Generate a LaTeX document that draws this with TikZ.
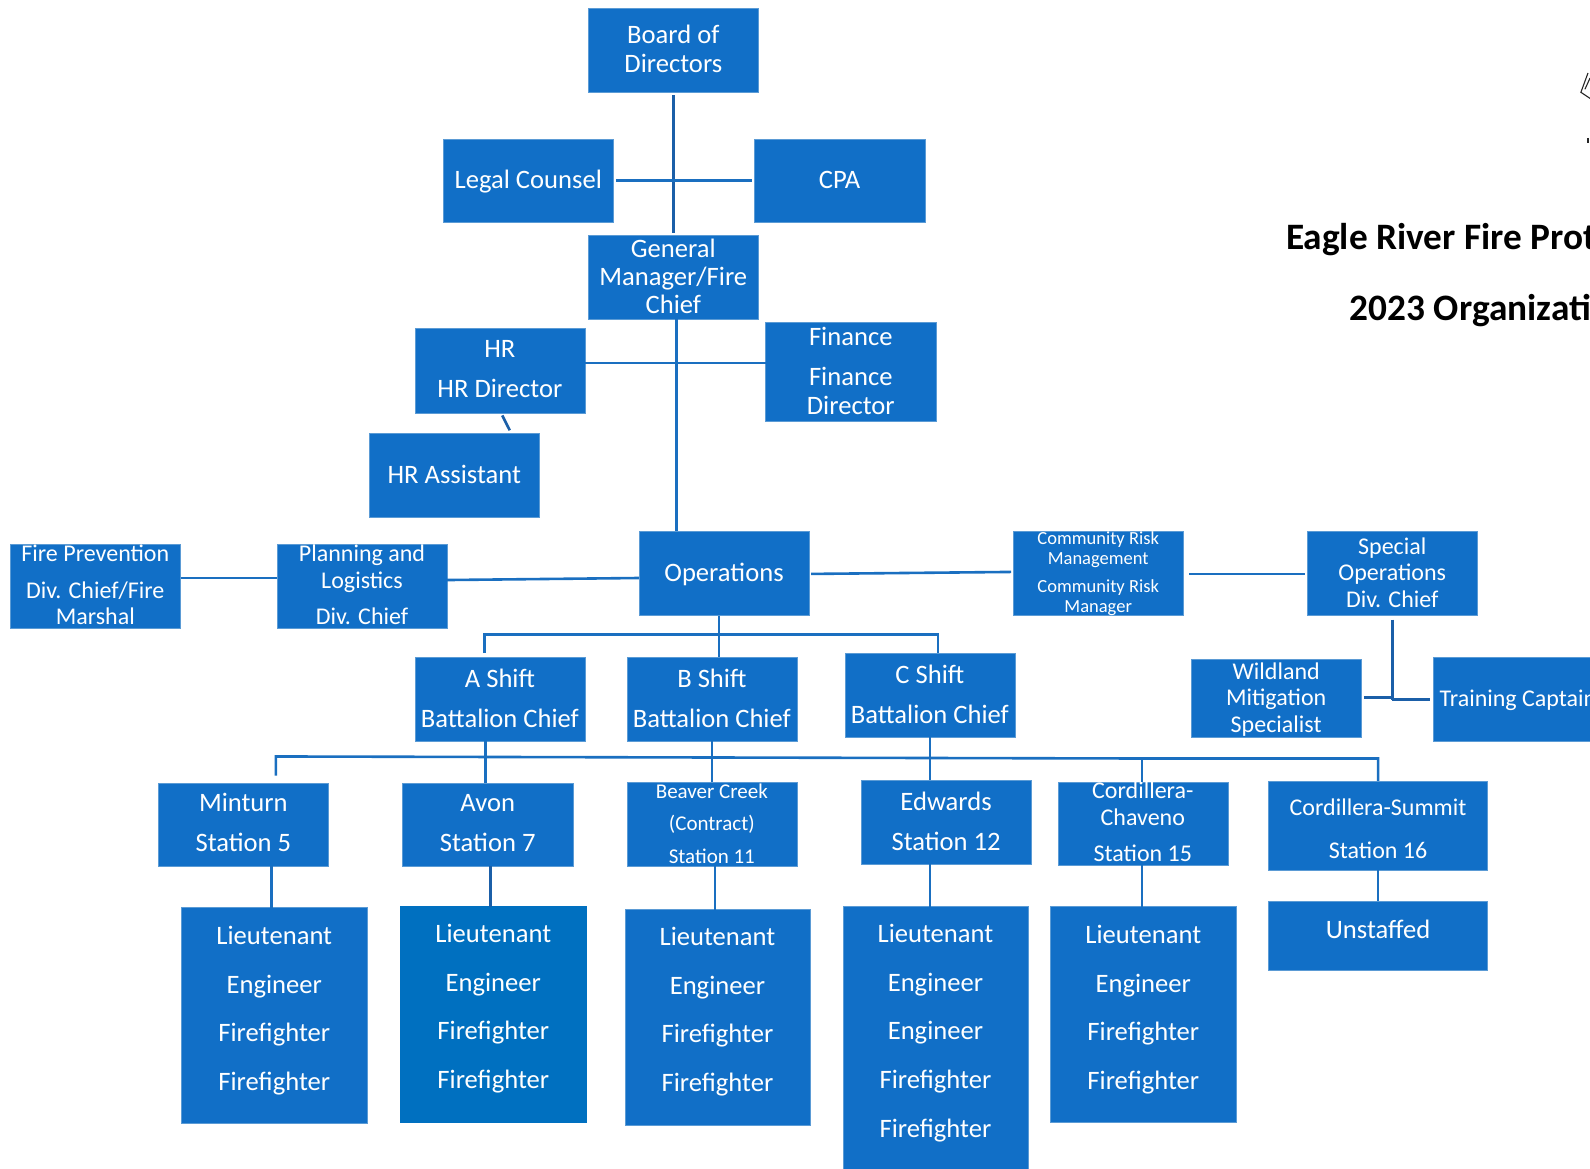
\documentclass[tikz,border=0pt]{standalone}
\usepackage{fontspec}
\setmainfont{Carlito}
\definecolor{bfill}{HTML}{116FC7}
\definecolor{bedge}{HTML}{5B9BD5}
\definecolor{avfill}{HTML}{0070C0}
\definecolor{lnA}{HTML}{1A6FC0}
\definecolor{lnB}{HTML}{1B5FA8}
\tikzset{
  orgbox/.style={fill=bfill,draw=bedge,line width=0.3pt,inner sep=0pt,outer sep=0pt,text=white},
  conn/.style={draw=lnA,line width=2.6pt},
  connd/.style={draw=lnB,line width=2.6pt},
  title/.style={anchor=west,inner sep=0pt,text=black,font=\bfseries\fontsize{37.3}{40}\selectfont},
  logoline/.style={draw=black!85,line width=1.1pt}
}
% [extra style]{name}{x1}{y1}{x2}{y2}{text centre y}{font size}{baseline}{text}
\newcommand\bx[9][]{%
  \pgfmathsetmacro\bw{(#5-#3)*1.014}%
  \pgfmathsetmacro\bh{(#6-#4)*1.014}%
  \pgfmathsetmacro\bdy{((#4+#6)/2-#7)*1.014}%
  \pgfmathsetmacro\boff{#8>25?1.3:(#8<20?0:2)}%
  \node[orgbox,#1,minimum width=\bw pt,minimum height=\bh pt] (#2) at ({(#3+#5)/2},{(#4+#6)/2})
  {\fontsize{#8}{#9}\selectfont\makebox[0pt]{\raisebox{\dimexpr\bdy pt-0.25em-\boff pt\relax}[0pt][0pt]{\parbox[c]{320pt}{\centering\baselineskip=#9pt\relax\lineskiplimit=-100pt\relax\leavevmode\vphantom{Ag}\bxtext\vphantom{Ag}}}}};%
}
\begin{document}
\begin{tikzpicture}[x=1.014pt,y=-1.014pt]
\clip (0,0) rectangle (1568,1152);
\newcommand\B[1]{\def\bxtext{#1}}
% top
\B{Board of\\Directors}\bx{board}{580}{8}{748}{91}{48.5}{26.6}{29}
\B{Legal Counsel}\bx{legal}{437}{137}{605}{219}{177.5}{26.6}{29}
\B{CPA}\bx{cpa}{744}{137}{912}{219}{177.5}{26.6}{29}
\B{General\\Manager/Fire\\Chief}\bx{gm}{580}{232}{748}{315}{272.5}{26.6}{28}
\B{HR\\[11pt]HR Director}\bx{hr}{409}{324}{577}{407}{364.5}{26.6}{29}
\B{Finance\\[11pt]Finance\\Director}\bx{fin}{755}{318}{923}{415}{366}{26.6}{29}
\B{HR Assistant}\bx{hra}{364}{427}{532}{510}{468.5}{26.6}{29}
% middle row
\B{Fire Prevention\\[10pt]Div. Chief/Fire\\Marshal}\bx{fp}{10}{537}{178}{619}{577}{24}{26.5}
\B{Planning and\\Logistics\\[10pt]Div. Chief}\bx{plan}{273}{537}{441}{619}{577}{24}{26.5}
\B{Operations}\bx{ops}{630}{524}{798}{607}{565}{26.6}{29}
\B{Community Risk\\Management\\[8pt]Community Risk\\Manager}\bx{crm}{999}{524}{1167}{607}{565}{18.5}{20}
\B{Special\\Operations\\Div. Chief}\bx{spec}{1289}{524}{1457}{607}{565}{24}{26.5}
\B{Wildland\\Mitigation\\Specialist}\bx{wild}{1175}{650}{1342}{727}{688}{24}{26.5}
\B{Training Captain}\bx{train}{1413}{648}{1581}{731}{689}{24}{26.5}
% shifts
\B{A Shift\\[11pt]Battalion Chief}\bx{ashift}{409}{648}{577}{731}{689}{26.6}{29}
\B{B Shift\\[11pt]Battalion Chief}\bx{bshift}{618}{648}{786}{731}{689}{26.6}{29}
\B{C Shift\\[11pt]Battalion Chief}\bx{cshift}{833}{644}{1001}{727}{685}{26.6}{29}
% stations
\B{Minturn\\[11pt]Station 5}\bx{st5}{156}{772}{324}{854}{812}{26.6}{29}
\B{Avon\\[11pt]Station 7}\bx{st7}{397}{772}{565}{854}{812}{26.6}{29}
\B{Beaver Creek\\(Contract)\\Station 11}\bx{st11}{618}{771}{786}{854}{812}{21}{32.5}
\B{Edwards\\[11pt]Station 12}\bx{st12}{849}{769}{1017}{852}{810}{26.6}{29}
\B{Cordillera-\\Chaveno\\[10pt]Station 15}\bx{st15}{1043}{771}{1211}{853}{811}{24}{26.5}
\B{Cordillera-Summit\\[17pt]Station 16}\bx{st16}{1251}{770}{1467}{858}{817.5}{24}{26.5}
% crews
\B{Lieutenant\\Engineer\\Firefighter\\Firefighter}\bx{cr5}{179}{895}{362}{1108}{995}{26.6}{48.7}
\B{Lieutenant\\Engineer\\Firefighter\\Firefighter}\bx[fill=avfill,draw=avfill]{cr7}{395}{894}{578}{1107}{993}{26.6}{48.7}
\B{Lieutenant\\Engineer\\Firefighter\\Firefighter}\bx{cr11}{616}{897}{799}{1110}{996}{26.6}{48.7}
\B{Lieutenant\\Engineer\\Engineer\\Firefighter\\Firefighter}\bx{cr12}{831}{894}{1014}{1160}{1017}{26.6}{48.7}
\B{Lieutenant\\Engineer\\Firefighter\\Firefighter}\bx{cr15}{1036}{894}{1219}{1107}{994}{26.6}{48.7}
\B{Unstaffed}\bx{un}{1251}{889}{1467}{957}{917}{26.6}{29}
% titles
\node[title] (t1) at (1268,236) {Eagle River Fire Prot};
\node[title] (t2) at (1331,306) {2023 Organizati};
% logo fragment at the page edge
\draw[logoline] (1566,72) -- (1559,91) -- (1568,97);
\draw[logoline] (1563,88) -- (1568,77);
\draw[logoline,line width=1.8pt] (1566,136) -- (1566,141);
% junctions
\coordinate (jh) at (667,358);
\coordinate (jb1) at (272,746);
\coordinate (jb2) at (1359,748);
\coordinate (jw) at (1373,690);
% connectors
\draw[connd,shorten <=3pt,shorten >=2pt] (board.south) -- (gm.north);
\draw[conn,shorten <=3pt,shorten >=2pt] (legal.east) -- (cpa.west);
\draw[conn] ([xshift=3pt]gm.south) -- ([xshift=3pt]gm.south |- ops.north);
\draw[conn] (hr.east |- jh) -- (fin.west |- jh);
\draw[connd,shorten <=3pt,shorten >=3pt] ([xshift=1pt]hr.south) -- (504,427);
\draw[conn] (fp.east |- 0,570) -- (plan.west |- 0,570);
\draw[conn] (plan.east |- 0,572) -- (ops.west |- 0,570);
\draw[conn,shorten <=2pt,shorten >=2pt] (ops.east |- 0,566) -- (crm.west |- 0,564);
\draw[conn,shorten <=6pt,shorten >=2pt] (crm.east |- 0,566) -- (spec.west |- 0,566);
\draw[connd,shorten <=4pt] (spec.south) -- (jw);
\draw[connd,shorten <=3pt] (wild.east |- 0,688) -- (1373,688);
\draw[connd,shorten >=3pt] (jw) -- (train.west |- jw);
% shift bus
\draw[conn] (709,607) -- (709,648);
\draw[conn,line cap=square] (478,644) -- (478,626) -- (925,626) -- (925,644);
% station bus
\draw[conn,line cap=square] (272,765) -- (jb1) -- (1126,748) -- (jb2) -- (1359,770);
\draw[conn] (1126,748) -- (1126,771);
\draw[conn] (479,731) -- (479,772);
\draw[conn] (702,731) -- (702,771);
\draw[conn] (917,727) -- (917,769);
% station to crew
\draw[conn] (268,854) -- (268,895);
\draw[connd] (484,854) -- (484,894);
\draw[conn] (705,854) -- (705,897);
\draw[conn] (917,852) -- (917,894);
\draw[conn] (1126,853) -- (1126,894);
\draw[conn] (st16.south) -- (un.north);
\end{tikzpicture}
\end{document}
